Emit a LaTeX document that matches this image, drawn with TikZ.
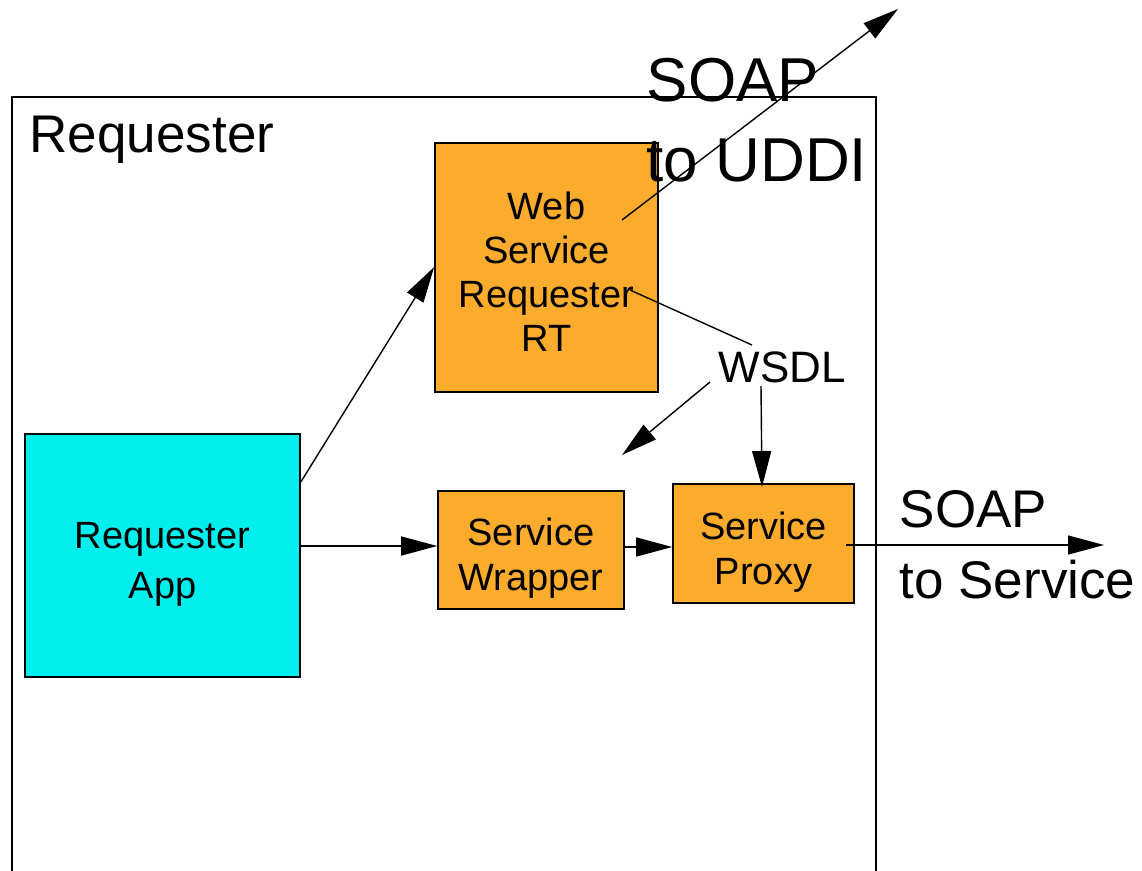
\documentclass[tikz,border=0pt]{standalone}
\usepackage{fontspec}
\setmainfont{Liberation Sans}
\usetikzlibrary{arrows.meta}
\definecolor{boxorange}{RGB}{252,172,44}
\definecolor{appcyan}{RGB}{0,238,238}
% extra room above the first line of a block label
\newcommand\headroom{\rule{0pt}{36pt}}
\begin{document}
\begin{tikzpicture}[x=1pt, y=-1pt, line width=1.4pt,
  arr/.style={-{Triangle[length=36pt,width=19pt]}},
  block/.style={draw, line width=1.6pt, inner sep=0pt, align=center, text depth=0pt},
  orangeblock/.style={block, fill=boxorange},
  boxtext/.style={font=\fontsize{38}{44}\selectfont},
  plain/.style={inner sep=0pt}]
\useasboundingbox (0,0) rectangle (1142,870);

% Requester container (open at the bottom)
\draw[line width=1.6pt] (12,880) -- (12,97) -- (876,97) -- (876,880);
\node[plain, anchor=base west, font=\fontsize{53}{64}\selectfont] (reqlabel) at (29,152) {Requester};

% components
\node[orangeblock, boxtext, minimum width=223pt, minimum height=249pt] (rt) at (546.5,267.5) {\headroom Web\\Service\\Requester\\RT};
\node[block, fill=appcyan, font=\fontsize{38}{50}\selectfont, minimum width=275pt, minimum height=243pt] (app) at (162.5,555.5) {\headroom Requester\\App};
\node[orangeblock, font=\fontsize{38}{45}\selectfont, minimum width=186pt, minimum height=118pt] (wrap) at (531,550) {\headroom Service\\Wrapper};
\node[orangeblock, font=\fontsize{38}{45}\selectfont, minimum width=181pt, minimum height=119pt] (proxy) at (763.5,543.5) {\headroom Service\\Proxy};

% labels
\node[plain, font=\fontsize{44}{53}\selectfont] (wsdl) at (782.5,367.5) {WSDL};
\node[plain, anchor=west, align=left, font=\fontsize{62}{80}\selectfont] (uddi) at (646,120) {SOAP\\to UDDI};
\node[plain, anchor=west, align=left, font=\fontsize{53}{71}\selectfont] (svc) at (899,545) {SOAP\\to Service};

% connector end points
\coordinate (uddiA) at (622,220);
\coordinate (uddiB) at (898,9);
\coordinate (rtlink) at (630,290);
\coordinate (wsdlin) at (752,345);
\coordinate (wsdlA) at (710,382);
\coordinate (wsdlfree) at (622,455);
\coordinate (wsdlB) at (761,386);
\coordinate (proxyin) at (762,487);
\coordinate (proxyout) at (846,545);
\coordinate (svcend) at (1104,545);

% connectors
\draw[arr] (app.east |- 0,482) -- (rt.west |- 0,267);
\draw[arr] (app.east |- 0,546) -- (wrap.west |- 0,546);
\draw[arr] (wrap.east |- 0,547) -- (proxy.west |- 0,547);
\draw[arr] (proxyout) -- (svcend);
\draw[arr] (uddiA) -- (uddiB);
\draw (rtlink) -- (wsdlin);
\draw[arr] (wsdlA) -- (wsdlfree);
\draw[arr] (wsdlB) -- (proxyin);
\end{tikzpicture}
\end{document}
